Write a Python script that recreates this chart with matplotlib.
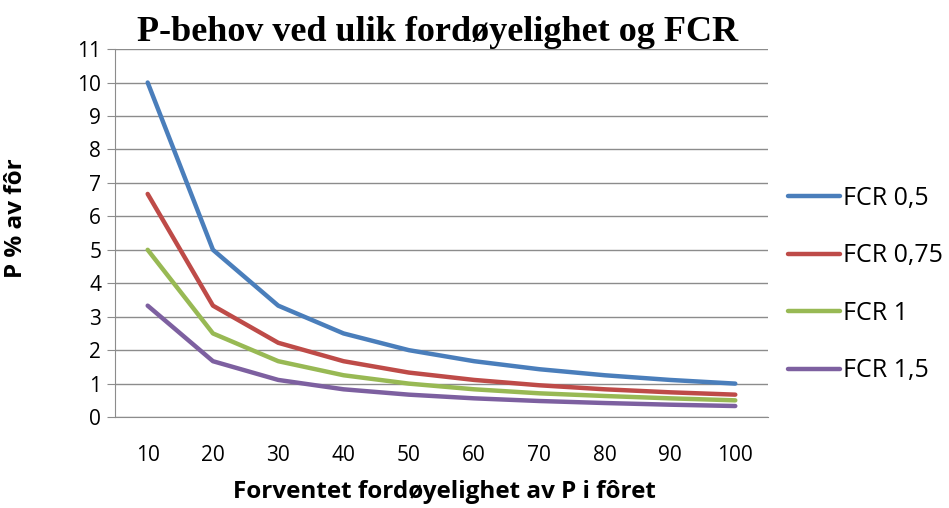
import matplotlib
matplotlib.use("Agg")
import matplotlib.pyplot as plt

# Data
categories = ["10", "20", "30", "40", "50", "60", "70", "80", "90", "100"]
fcr_05 = [10.0, 5.0, 3.33, 2.5, 2.0, 1.67, 1.43, 1.25, 1.11, 1.0]
fcr_075 = [6.67, 3.33, 2.22, 1.67, 1.33, 1.11, 0.95, 0.83, 0.74, 0.67]
fcr_1 = [5.0, 2.5, 1.67, 1.25, 1.0, 0.83, 0.71, 0.63, 0.56, 0.5]
fcr_15 = [3.33, 1.67, 1.11, 0.83, 0.67, 0.56, 0.48, 0.42, 0.37, 0.33]
series_names = ["FCR 0,5", "FCR 0,75", "FCR 1", "FCR 1,5"]
colors = ["#4A7EBB", "#BE4B48", "#98B954", "#7D60A0"]

fig = plt.figure(figsize=(9.49, 5.08), dpi=100)
ax = fig.add_axes([0.1212, 0.179, 0.688, 0.7244])

x = list(range(len(categories)))
for vals, name, c in zip([fcr_05, fcr_075, fcr_1, fcr_15], series_names, colors):
    ax.plot(x, vals, color=c, lw=3.2, label=name, solid_capstyle="round",
            solid_joinstyle="round")

ax.set_xlim(-0.5, len(categories) - 0.5)
ax.set_ylim(0, 11)
ax.set_yticks(range(0, 12))
ax.set_xticks(x)
ax.set_xticklabels(categories)
ax.grid(axis="y", color="#8C8C8C", lw=1)
ax.set_axisbelow(True)
for s in ["top", "right"]:
    ax.spines[s].set_visible(False)
ax.spines["left"].set_color("#8C8C8C")
ax.spines["bottom"].set_color("#8C8C8C")
ax.tick_params(axis="y", length=6, color="#8C8C8C", labelsize=15, pad=4)
ax.tick_params(axis="x", length=0, labelsize=15, pad=20)
for lab in ax.get_xticklabels() + ax.get_yticklabels():
    lab.set_family("Open Sans")

ax.set_xlabel("Forventet fordøyelighet av P i fôret", fontsize=17.5,
              fontweight="bold", family="Open Sans")
ax.set_ylabel("P % av fôr", fontsize=17.5, fontweight="bold",
              family="Open Sans")
ax.xaxis.set_label_coords(0.505, -0.171)
ax.yaxis.set_label_coords(-0.133, 0.541)
fig.text(0.461, 0.937, "P-behov ved ulik fordøyelighet og FCR", ha="center",
         va="center", fontsize=26, fontweight="bold", family="Liberation Serif")

leg = ax.legend(loc="center left", bbox_to_anchor=(1.0306, 0.36), frameon=False,
                handlelength=2.08, handletextpad=0.12, borderpad=0,
                borderaxespad=0, labelspacing=1.3,
                prop={"family": "Open Sans", "size": 18})

fig.savefig("out.png", dpi=100)
